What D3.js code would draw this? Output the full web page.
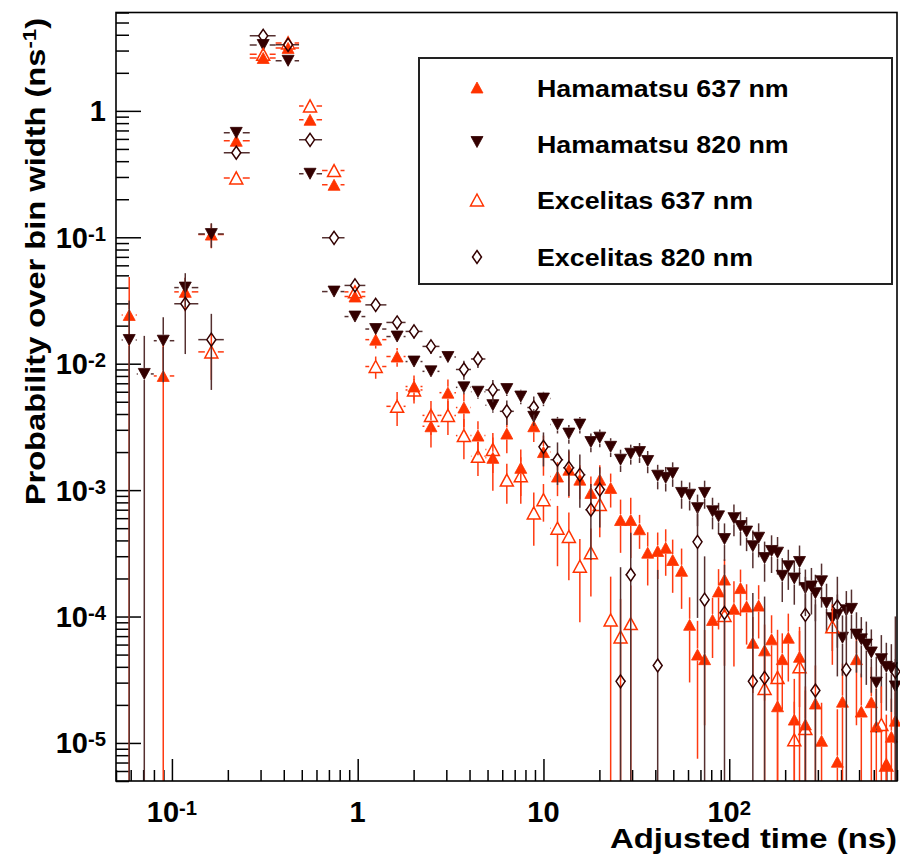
<!DOCTYPE html>
<html><head><meta charset="utf-8">
<script src="https://cdn.jsdelivr.net/npm/d3@7"></script>
<style>body{margin:0;background:#fff}svg{display:block}</style>
</head><body>
<svg id="c" width="900" height="856"></svg>
<script>
// ---- data ----
const binCenters = [0.0589,0.0710,0.0898,0.118,0.163,0.222,0.310,0.422,0.554,0.746,
 0.967,1.25,1.63,2.01,2.48,3.06,3.73,4.44,5.34,6.35,
 7.55,8.87,10.0,11.9,13.7,15.7,18.0,20.1,23.0,26.0,
 29.5,32.9,36.4,41.2,45.5,49.6,55.4,61.2,67.5,73.7,
 81.3,87.6,94.3,106,115,124,134,144,155,169,
 182,193,208,224,239,257,277,291,314,334,
 359,382,407,427,455,484,514,547,582,619,
 659,701,746,784];

const ham637 = [0.0243,null,0.0080,0.037,0.105,0.58,2.62,3.15,0.85,0.26,
 0.034,0.0155,0.0114,0.0066,0.0032,0.0059,0.0045,0.0027,0.0018,0.0028,
 0.0015,0.0032,0.0020,0.00128,0.00145,0.00121,0.00095,0.00121,0.00104,0.00058,
 0.00058,0.00049,0.00032,0.00033,0.00035,0.00028,0.00023,0.000086,0.000050,0.000046,
 0.000094,0.000158,0.000196,0.000115,0.000168,0.000120,0.000062,0.000122,0.000054,0.000066,
 0.0000195,0.000046,0.000068,0.0000153,0.000048,0.000014,null,0.0000205,0.0000104,null,
 null,0.0000071,0.0000212,null,null,0.000046,0.0000177,null,0.000021,0.0000135,
 null,0.0000067,0.0000112,0.000015];
const ham637RelErr = [1.0,null,1.0,0.3,0.22,0.05,0.03,0.03,0.05,0.05,
 0.08,0.15,0.17,0.22,0.32,0.27,0.3,0.3,0.45,0.3,
 0.4,0.25,0.35,0.3,0.4,0.3,0.35,0.3,0.3,0.45,
 0.5,0.3,0.45,0.4,0.4,0.45,0.5,0.65,0.85,0.7,
 0.5,0.5,0.45,0.65,0.4,0.5,0.6,0.45,0.6,0.55,
 0.9,0.6,0.55,1.1,0.6,1.0,null,1.0,1.0,null,
 null,1.6,1.0,null,null,0.7,1.0,null,0.9,1.0,
 null,1.5,1.0,1.0];

const ham820 = [0.0154,0.0083,0.0152,0.040,0.106,0.67,3.32,2.49,0.318,0.0372,
 0.0236,0.0188,0.0164,0.0104,0.0087,0.0113,0.0065,0.0060,0.0047,0.0063,
 0.0055,0.0038,0.0053,0.0033,0.0028,0.0033,0.0024,0.0026,0.0022,0.00174,
 0.00194,0.0020,0.0017,0.0013,0.00125,0.00136,0.00095,0.00092,0.00072,0.00095,
 0.00068,0.00062,0.00041,0.00060,0.00052,0.00047,0.00036,0.00042,0.00029,0.00033,
 0.00032,0.00021,0.00025,0.00020,0.00027,0.000168,0.000173,0.000153,0.00019,0.000128,
 0.000097,0.000103,0.000068,0.000112,0.000115,0.000072,0.000066,0.000060,0.000052,0.000030,
 0.000046,0.000040,0.000039,0.000028];
const ham820RelErr = [1.05,1.0,0.53,0.3,0.22,0.03,0.02,0.02,0.04,0.06,
 0.07,0.08,0.08,0.1,0.1,0.1,0.12,0.12,0.13,0.12,
 0.13,0.15,0.13,0.15,0.17,0.15,0.17,0.16,0.17,0.2,
 0.18,0.18,0.2,0.22,0.22,0.22,0.25,0.25,0.28,0.25,
 0.28,0.28,0.33,0.28,0.3,0.3,0.33,0.3,0.35,0.33,
 0.33,0.38,0.35,0.38,0.35,0.4,0.4,0.4,0.38,0.42,
 0.45,0.45,0.5,0.42,0.42,0.5,0.5,0.52,0.52,0.6,
 0.55,0.55,0.55,0.65];

const exc637 = [null,null,null,null,0.0124,0.295,2.8,3.45,1.095,0.337,
 0.037,0.0095,0.0046,0.0062,0.0039,0.0039,0.0027,0.00185,0.0021,0.0012,
 0.0013,0.00066,0.00084,0.0005,0.00043,0.00025,0.00032,0.00077,0.000094,0.000069,
 0.000088,null,null,null,null,null,null,null,null,null,
 null,null,0.000102,null,null,null,null,null,0.000027,null,
 0.000033,null,null,0.0000106,0.000040,0.000013,null,null,null,null,
 0.000083,null,null,null,null,null,null,null,null,null,
 0.000014,0.0000067,null,null];
const exc637RelErr = [null,null,null,null,0.4,0.05,0.03,0.03,0.05,0.05,
 0.08,0.2,0.3,0.22,0.3,0.3,0.35,0.3,0.35,0.35,
 0.4,0.45,0.33,0.5,0.55,0.64,0.55,0.45,1.2,1.0,
 1.0,null,null,null,null,null,null,null,null,null,
 null,null,0.6,null,null,null,null,null,1.0,null,
 1.38,null,null,1.0,1.07,1.0,null,null,null,null,
 0.5,null,null,null,null,null,null,null,null,null,
 1.0,1.0,null,null];

const exc820 = [null,null,null,0.0298,0.0155,0.466,3.92,3.33,0.59,0.099,
 0.0416,0.0292,0.0212,0.0180,0.0137,null,0.0090,0.0109,0.0062,0.0042,
 null,0.0045,0.0022,0.00174,0.0015,0.00132,0.0007,0.00101,null,0.0000307,
 0.000214,null,null,0.000041,null,null,null,null,0.00039,0.000136,
 null,null,0.000107,null,null,null,0.0000307,null,0.0000327,null,
 null,null,null,null,null,0.000103,null,0.000026,null,null,
 null,0.00012,null,0.000038,null,null,null,null,null,null,
 null,null,null,0.0000367];
const exc820RelErr = [null,null,null,0.6,0.6,0.05,0.03,0.03,0.05,0.06,
 0.08,0.1,0.12,0.12,0.13,null,0.17,0.15,0.2,0.22,
 null,0.22,0.3,0.37,0.4,0.45,0.6,0.5,null,7.0,
 1.15,null,null,4.7,null,null,null,null,0.75,1.2,
 null,null,1.4,null,null,null,4.0,null,3.4,null,
 null,null,null,null,null,1.0,null,3.8,null,null,
 null,0.72,null,2.15,null,null,null,null,null,null,
 null,null,null,1.73];

const seriesNames = ["Hamamatsu 637 nm","Hamamatsu 820 nm","Excelitas 637 nm","Excelitas 820 nm"];
const xTickValues = [0.1, 1, 10, 100];
const xTickBase = ["10","1","10","10"];
const xTickSup = ["-1","","","2"];
const yTickValues = [1, 0.1, 0.01, 0.001, 1e-4, 1e-5];
const yTickBase = ["1","10","10","10","10","10"];
const yTickSup = ["","-1","-2","-3","-4","-5"];
const xTitle = "Adjusted time (ns)";
const yTitle = ["Probability over bin width (ns", "-1", ")"];

// ---- layout ----
const W = 900, H = 856;
const L = 116, R = 897, T = 12.5, B = 781;
const FONT = "'Liberation Sans', Arial, Helvetica, sans-serif";
const STRETCH = 1.165;
const svg = d3.select("#c");
svg.append("rect").attr("width", W).attr("height", H).attr("fill", "#fff");

const x = d3.scaleLog().domain([0.05, 800]).range([L, R]);
const y = d3.scaleLog().domain([5e-6, 6]).range([B, T]);

svg.append("defs").append("clipPath").attr("id", "pc")
  .append("rect").attr("x", L).attr("y", T).attr("width", R - L).attr("height", B - T);

function logTicks(dom) {
  const out = [];
  for (let d = -7; d <= 3; d++) for (let k = 1; k <= 9; k++) {
    const v = k * Math.pow(10, d);
    if (v >= dom[0] * 0.9999 && v <= dom[1] * 1.0001) out.push({v, major: k === 1});
  }
  return out;
}
function styleAxis(g) {
  g.select(".domain").remove();
  g.selectAll(".tick line").attr("stroke", "#000").attr("stroke-width", 1.5);
}
const xt = logTicks(x.domain()), yt = logTicks(y.domain());
svg.append("g").attr("transform", `translate(0,${B})`)
  .call(d3.axisBottom(x).tickValues(xt.filter(t => !t.major).map(t => t.v)).tickSize(-11).tickFormat(""))
  .call(styleAxis);
svg.append("g").attr("transform", `translate(0,${B})`)
  .call(d3.axisBottom(x).tickValues(xt.filter(t => t.major).map(t => t.v)).tickSize(-22).tickFormat(""))
  .call(styleAxis);
svg.append("g").attr("transform", `translate(${L},0)`)
  .call(d3.axisLeft(y).tickValues(yt.filter(t => !t.major).map(t => t.v)).tickSize(-13).tickFormat(""))
  .call(styleAxis);
svg.append("g").attr("transform", `translate(${L},0)`)
  .call(d3.axisLeft(y).tickValues(yt.filter(t => t.major).map(t => t.v)).tickSize(-25).tickFormat(""))
  .call(styleAxis);

// tick labels
function powLabel(g, base, sup, fs) {
  const t = g.append("text").attr("font-size", fs).attr("font-weight", "bold")
    .attr("font-family", FONT).attr("fill", "#000");
  t.append("tspan").text(base);
  if (sup) t.append("tspan").attr("font-size", fs * 0.7).attr("dy", -7).text(sup);
  return t;
}
xTickValues.forEach((v, i) => {
  powLabel(svg, xTickBase[i], xTickSup[i], 29)
    .attr("x", x(v)).attr("y", 821.5).attr("text-anchor", "middle");
});
yTickValues.forEach((v, i) => {
  powLabel(svg, yTickBase[i], yTickSup[i], 29)
    .attr("x", 106).attr("y", y(v) + 10.5).attr("text-anchor", "end");
});

// ---- series ----
const series = [
  {vals: ham637, rel: ham637RelErr, shape: "triUp",   filled: true,  color: "#ff3300", line: "#ff3a10"},
  {vals: ham820, rel: ham820RelErr, shape: "triDown", filled: true,  color: "#330000", line: "#553030"},
  {vals: exc637, rel: exc637RelErr, shape: "triUp",   filled: false, color: "#ff3300", line: "#ff3a10"},
  {vals: exc820, rel: exc820RelErr, shape: "diamond", filled: false, color: "#330000", line: "#553030"}
];
function shapePath(s) {
  if (s.shape === "diamond") return "M0,-6.5L4.5,0L0,6.5L-4.5,0Z";
  const w = s.filled ? 12 : 13, h = s.filled ? 11 : 12;
  if (s.shape === "triUp") return `M0,${-h/2}L${w/2},${h/2}L${-w/2},${h/2}Z`;
  return `M0,${h/2}L${w/2},${-h/2}L${-w/2},${-h/2}Z`;
}
function gaps(s) { return s.shape === "diamond" ? [4.5, 6.5] : [6.5, 6]; }
function edges(i) {
  const c = binCenters, n = c.length;
  let hi = i < n - 1 ? Math.sqrt(c[i] * c[i + 1]) : null;
  let lo = i > 0 ? Math.sqrt(c[i - 1] * c[i]) : null;
  if (hi === null) hi = c[i] * c[i] / lo;
  if (lo === null) lo = c[i] * c[i] / hi;
  return [lo, hi];
}
function drawSeries(s, g) {
  const gb = g.append("g").attr("clip-path", "url(#pc)")
    .attr("stroke", s.line).attr("stroke-width", 1.5).attr("fill", "none");
  const [gw, gh] = gaps(s);
  const seg = (x1, y1, x2, y2) => gb.append("line").attr("x1", x1).attr("y1", y1).attr("x2", x2).attr("y2", y2);
  s.vals.forEach((v, i) => {
    if (v == null) return;
    const cx = x(binCenters[i]), cy = y(v);
    const e = (s.rel[i] || 0) * v;
    const yTop = y(v + e);
    const lo = v - e;
    const yBot = lo > 0 ? Math.min(y(lo), B + 5) : B + 5;
    const [l, h] = edges(i);
    const xl = x(l), xr = x(h);
    if (cy - gh > yTop + 0.5) seg(cx, yTop, cx, cy - gh);
    if (cy + gh < yBot - 0.5) seg(cx, cy + gh, cx, yBot);
    if (cx - gw > xl + 0.5) seg(xl, cy, cx - gw, cy);
    if (cx + gw < xr - 0.5) seg(cx + gw, cy, xr, cy);
  });
  g.append("g").selectAll("path").data(s.vals.map((v, i) => ({v, i})).filter(d => d.v != null))
    .join("path")
    .attr("transform", d => `translate(${x(binCenters[d.i])},${y(d.v)})`)
    .attr("d", shapePath(s))
    .attr("fill", s.filled ? s.color : "none")
    .attr("stroke", s.color)
    .attr("stroke-width", s.filled ? 0.8 : 1.5);
}
const plotG = svg.append("g");
series.forEach(s => drawSeries(s, plotG));

// frame
svg.append("rect").attr("x", L).attr("y", T).attr("width", R - L).attr("height", B - T)
  .attr("fill", "none").attr("stroke", "#000").attr("stroke-width", 1.6);

// legend
const lg = svg.append("g");
lg.append("rect").attr("x", 419).attr("y", 58).attr("width", 473).attr("height", 226)
  .attr("fill", "#fff").attr("stroke", "#222").attr("stroke-width", 2);
const legMarkY = [87.5, 142, 200, 257];
const legTextY = [96.7, 153.3, 209.3, 266];
series.forEach((s, i) => {
  lg.append("path").attr("transform", `translate(477,${legMarkY[i]})`).attr("d", shapePath(s))
    .attr("fill", s.filled ? s.color : "none").attr("stroke", s.color)
    .attr("stroke-width", s.filled ? 0.8 : 1.5);
  const t = lg.append("text").attr("x", 537).attr("y", legTextY[i]).attr("font-size", 23)
    .attr("font-weight", "bold").attr("font-family", FONT).attr("fill", "#000").text(seriesNames[i]);
  const n = t.node().getComputedTextLength();
  t.attr("textLength", n * STRETCH).attr("lengthAdjust", "spacingAndGlyphs");
});

// axis titles
const xtT = svg.append("text").attr("y", 847.5).attr("font-size", 27.5).attr("font-weight", "bold")
  .attr("font-family", FONT).attr("fill", "#000").text(xTitle);
const xl = 287;
xtT.attr("textLength", xl).attr("lengthAdjust", "spacingAndGlyphs").attr("x", R - xl);

const ytT = svg.append("text").attr("font-size", 28).attr("font-weight", "bold")
  .attr("font-family", FONT).attr("fill", "#000");
ytT.append("tspan").text(yTitle[0]);
ytT.append("tspan").attr("font-size", 19).attr("dy", -9).text(yTitle[1]);
ytT.append("tspan").attr("dy", 9).text(yTitle[2]);
const yl = ytT.node().getComputedTextLength() * STRETCH;
ytT.attr("textLength", yl).attr("lengthAdjust", "spacingAndGlyphs")
  .attr("transform", `translate(45,${18 + yl}) rotate(-90)`);
</script>
</body></html>
